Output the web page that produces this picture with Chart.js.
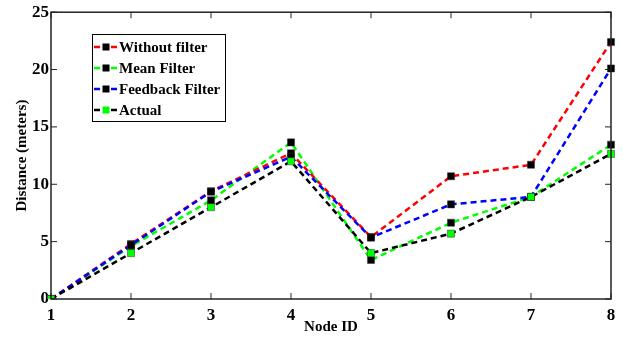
<!DOCTYPE html>
<html>
<head>
<meta charset="utf-8">
<script src="https://cdn.jsdelivr.net/npm/chart.js@4"></script>
<style>
  html, body { margin: 0; padding: 0; background: #fff; }
  #wrap { width: 640px; height: 338px; }
</style>
</head>
<body>
<div id="wrap"><canvas id="distChart" width="640" height="338"></canvas></div>
<script>
const nodeIds = ['1', '2', '3', '4', '5', '6', '7', '8'];
const withoutFilter = [0, 4.8, 9.4, 12.7, 5.4, 10.7, 11.7, 22.4];
const meanFilter = [0, 4.6, 8.6, 13.65, 3.4, 6.65, 8.9, 13.45];
const feedbackFilter = [0, 4.7, 9.35, 12.4, 5.35, 8.25, 8.9, 20.1];
const actual = [0, 4.0, 8.0, 12.0, 4.0, 5.7, 8.9, 12.65];
const yTicks = [0, 5, 10, 15, 20, 25];

const serif = "'Liberation Serif', 'DejaVu Serif', serif";

const legendItems = [
    { label: 'Without filter', line: '#ff0000', marker: '#000000' },
    { label: 'Mean Filter', line: '#00ff00', marker: '#000000' },
    { label: 'Feedback Filter', line: '#0000ff', marker: '#000000' },
    { label: 'Actual', line: '#000000', marker: '#00ff00' },
];

function series(label, data, line, marker) {
    return {
        label: label,
        data: data,
        borderColor: line,
        borderWidth: 2.5,
        borderDash: [6, 4],
        backgroundColor: marker,
        pointBackgroundColor: marker,
        pointBorderColor: '#333',
        pointBorderWidth: 0.5,
        pointStyle: 'rect',
        pointRadius: 5,
        fill: false,
        tension: 0,
    };
}

// box, inward ticks on all four sides, and the legend
const framePlugin = {
    id: 'frame',
    afterDraw(chart) {
        const ctx = chart.ctx;
        const a = chart.chartArea;
        const xs = chart.scales.x;
        const ys = chart.scales.y;
        ctx.save();
        ctx.strokeStyle = '#222';
        ctx.lineWidth = 1.5;
        ctx.strokeRect(a.left, a.top, a.right - a.left, a.bottom - a.top);
        ctx.lineWidth = 1;
        ctx.beginPath();
        nodeIds.forEach((n, i) => {
            const px = xs.getPixelForValue(i);
            ctx.moveTo(px, a.bottom); ctx.lineTo(px, a.bottom - 6);
            ctx.moveTo(px, a.top); ctx.lineTo(px, a.top + 6);
        });
        yTicks.forEach(v => {
            const py = ys.getPixelForValue(v);
            ctx.moveTo(a.left, py); ctx.lineTo(a.left + 6, py);
            ctx.moveTo(a.right, py); ctx.lineTo(a.right - 6, py);
        });
        ctx.stroke();

        // legend
        const bx = 92, by = 34, bw = 133, bh = 87;
        ctx.fillStyle = '#fff';
        ctx.fillRect(bx, by, bw, bh);
        ctx.strokeStyle = '#000';
        ctx.lineWidth = 1;
        ctx.strokeRect(bx + 0.5, by + 0.5, bw, bh);
        ctx.font = 'bold 15px ' + serif;
        ctx.textBaseline = 'middle';
        legendItems.forEach((it, i) => {
            const y = 47 + i * 21;
            ctx.strokeStyle = it.line;
            ctx.lineWidth = 2.5;
            ctx.beginPath();
            ctx.moveTo(94, y); ctx.lineTo(100, y);
            ctx.moveTo(111, y); ctx.lineTo(117, y);
            ctx.stroke();
            ctx.fillStyle = it.marker;
            ctx.fillRect(102.5, y - 3.5, 7, 7);
            ctx.fillStyle = '#000';
            ctx.fillText(it.label, 119, y + 1);
        });
        ctx.restore();
    }
};

const ctx = document.getElementById('distChart').getContext('2d');
const distChart = new Chart(ctx, {
    type: 'line',
    plugins: [framePlugin],
    data: {
        labels: nodeIds,
        datasets: [
            series('Actual', actual, '#000000', '#00ff00'),
            series('Feedback Filter', feedbackFilter, '#0000ff', '#000000'),
            series('Without filter', withoutFilter, '#ff0000', '#000000'),
            series('Mean Filter', meanFilter, '#00ff00', '#000000'),
        ],
    },
    options: {
        responsive: false,
        animation: { duration: 0 },
        layout: { padding: { top: 11, right: 29, left: 0, bottom: 0 } },
        plugins: {
            legend: { display: false },
            tooltip: { enabled: false },
        },
        scales: {
            x: {
                offset: false,
                grid: { display: false, drawTicks: false },
                border: { display: false },
                ticks: {
                    color: '#000',
                    padding: 6,
                    maxRotation: 0,
                    font: { family: serif, size: 17, weight: 'bold' },
                },
                title: {
                    display: true,
                    text: 'Node ID',
                    color: '#000',
                    padding: { top: 0, bottom: 2 },
                    font: { family: serif, size: 15, weight: 'bold' },
                },
                afterFit(scale) { scale.height = 39; },
            },
            y: {
                min: 0,
                max: 25,
                grid: { display: false, drawTicks: false },
                border: { display: false },
                afterBuildTicks(scale) {
                    scale.ticks = yTicks.map(v => ({ value: v }));
                },
                ticks: {
                    color: '#000',
                    padding: 2,
                    font: { family: serif, size: 17, weight: 'bold' },
                },
                title: {
                    display: true,
                    text: 'Distance (meters)',
                    color: '#000',
                    padding: { top: 13, bottom: 4 },
                    font: { family: serif, size: 15, weight: 'bold' },
                },
                afterFit(scale) { scale.width = 51; },
            },
        },
    },
});
</script>
</body>
</html>
